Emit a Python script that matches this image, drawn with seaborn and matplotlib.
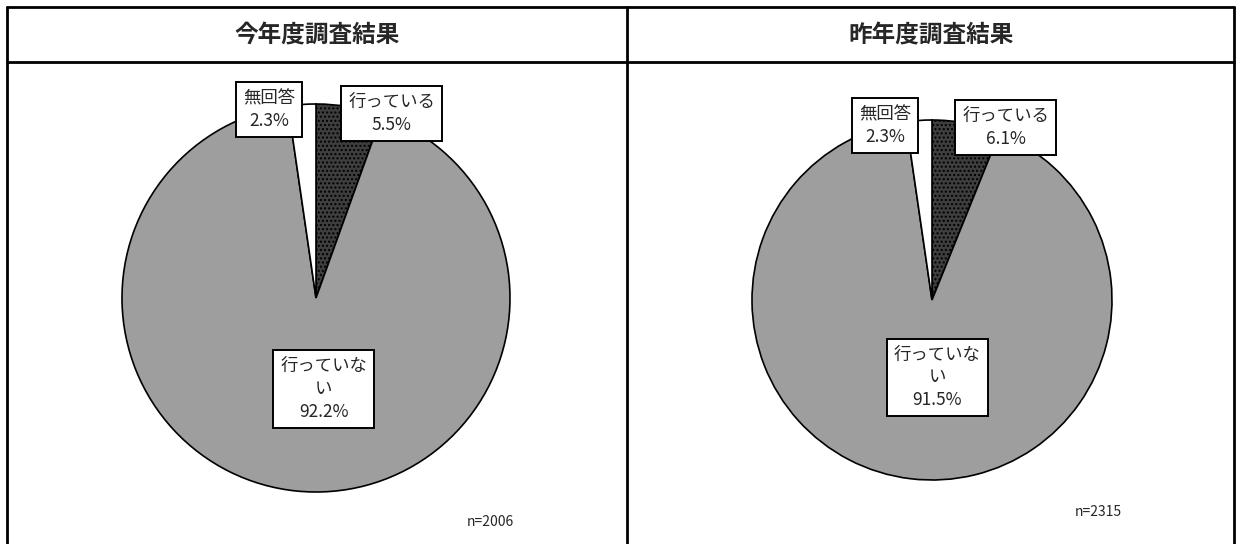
import matplotlib
matplotlib.use("Agg")
import matplotlib.pyplot as plt
import seaborn as sns
from matplotlib.lines import Line2D

# data
labels = ["行っている", "行っていない", "無回答"]
label_text = ["行っている", "行っていな\nい", "無回答"]
this_year = [5.5, 92.2, 2.3]
last_year = [6.1, 91.5, 2.3]
titles = ["今年度調査結果", "昨年度調査結果"]
n_values = [2006, 2315]

sns.set_theme(style="white")
plt.rcParams["font.family"] = ["Noto Sans CJK JP", "DejaVu Sans"]

colors = ["#3e3e3e", "#9e9e9e", "#ffffff"]

W, H = 1242, 544
fig = plt.figure(figsize=(W / 100, H / 100), dpi=100)
fig.patch.set_facecolor("white")


def px(x, y):
    return x / W, 1 - y / H


# table frame
frame = [((7, 7), (1234, 7)), ((7, 62), (1234, 62)), ((7, 7), (7, 544)),
         ((627, 7), (627, 544)), ((1234, 7), (1234, 544))]
for (x0, y0), (x1, y1) in frame:
    a, b = px(x0, y0)
    c, d = px(x1, y1)
    fig.add_artist(Line2D([a, c], [b, d], color="black", lw=2, transform=fig.transFigure))

fig.text(*px(317, 35), titles[0], ha="center", va="center", fontsize=17, fontweight="bold")
fig.text(*px(931, 35), titles[1], ha="center", va="center", fontsize=17, fontweight="bold")

pies = [
    dict(vals=this_year, cx=316, cy=298, r=194,
         pos=[(0.39, 0.95), (0.04, -0.47), (-0.24, 0.97)], n=n_values[0], npos=(490, 522)),
    dict(vals=last_year, cx=932, cy=300, r=180,
         pos=[(0.41, 0.96), (0.03, -0.43), (-0.26, 0.97)], n=n_values[1], npos=(1098, 512)),
]

for p in pies:
    left = (p["cx"] - p["r"]) / W
    bottom = 1 - (p["cy"] + p["r"]) / H
    ax = fig.add_axes([left, bottom, 2 * p["r"] / W, 2 * p["r"] / H])
    wedges, _ = ax.pie(p["vals"], colors=colors, startangle=90, counterclock=False,
                       radius=1, wedgeprops=dict(edgecolor="black", linewidth=1.2))
    wedges[0].set_hatch("....")
    ax.set_xlim(-1, 1)
    ax.set_ylim(-1, 1)
    ax.set_aspect("auto")
    ax.axis("off")
    for txt, v, (x, y) in zip(label_text, p["vals"], p["pos"]):
        ax.text(x, y, f"{txt}\n{v:.1f}%", ha="center", va="center", fontsize=12.5,
                linespacing=1.35, clip_on=False,
                bbox=dict(boxstyle="square,pad=0.4", facecolor="white",
                          edgecolor="black", linewidth=1.4))
    fig.text(*px(*p["npos"]), f"n={p['n']}", ha="center", va="center", fontsize=10)

fig.savefig("out.png", dpi=100)
